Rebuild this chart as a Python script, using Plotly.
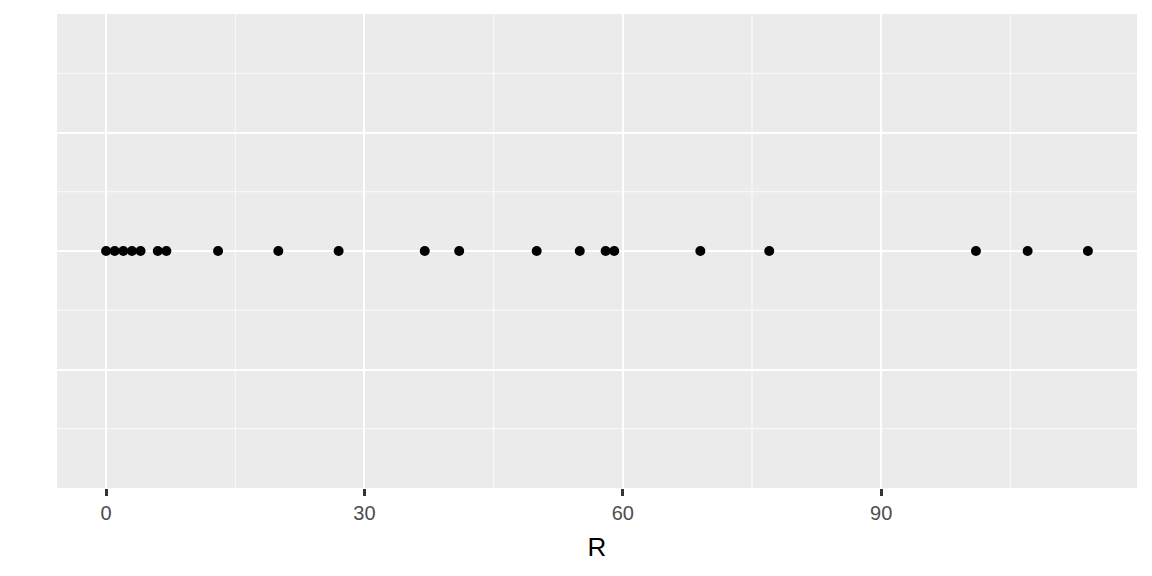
import plotly.graph_objects as go

R = [0, 1, 2, 3, 4, 6, 7, 13, 20, 27, 37, 41, 50, 55, 58, 59, 69, 77, 101, 107, 114]
y_vals = [0] * len(R)
x_ticks = [0, 30, 60, 90]
x_minor = [15, 45, 75, 105]

fig = go.Figure()
fig.add_trace(go.Scatter(
    x=R, y=y_vals, mode="markers",
    marker=dict(color="black", size=10, line=dict(width=0)),
    showlegend=False,
))

fig.update_layout(
    template="none",
    width=1136, height=560,
    margin=dict(l=49, r=7, t=6, b=80),
    paper_bgcolor="white",
    plot_bgcolor="#EBEBEB",
    font=dict(family="Arial", size=20, color="#4D4D4D"),
)
fig.update_xaxes(
    range=[-5.7, 119.7],
    tickmode="array",
    tickvals=x_ticks, ticktext=[str(v) for v in x_ticks],
    ticks="outside", ticklen=7, tickwidth=2.5, tickcolor="#333333",
    tickfont=dict(family="Arial", size=20, color="#4D4D4D"),
    showgrid=True, gridcolor="white", gridwidth=1.6,
    zeroline=False, showline=False,
    title=dict(text="R", font=dict(family="Arial", size=26, color="black"), standoff=14),
)
fig.update_yaxes(
    range=[-2, 2],
    tickmode="array",
    tickvals=[-1, 0, 1], showticklabels=False, ticks="",
    showgrid=True, gridcolor="white", gridwidth=1.6,
    zeroline=False, showline=False,
)
for xv in x_minor:
    fig.add_vline(x=xv, line=dict(color="white", width=0.8), layer="below")
for yv in [-1.5, -0.5, 0.5, 1.5]:
    fig.add_hline(y=yv, line=dict(color="white", width=0.8), layer="below")

fig.write_html("out.html")
